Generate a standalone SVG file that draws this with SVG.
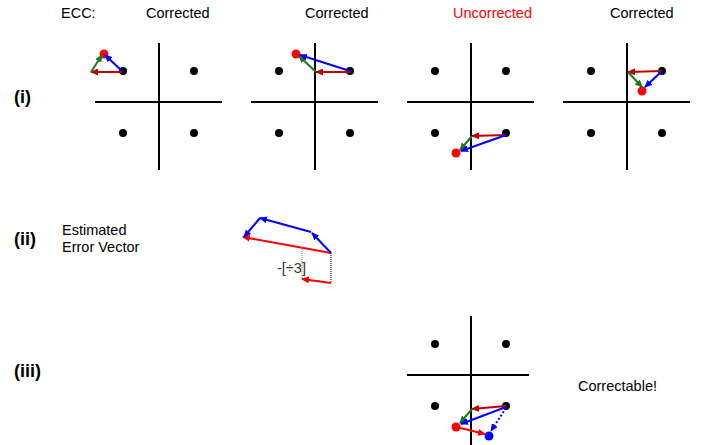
<svg xmlns="http://www.w3.org/2000/svg" width="701" height="445" viewBox="0 0 701 445">
<style>
text{font-family:"Liberation Sans",Arial,sans-serif;font-size:14.5px;fill:#000}
.lbl{font-weight:bold;font-size:18px}
.ax{stroke:#000;stroke-width:2;fill:none}
.pt{fill:#000}
.dr{stroke:#C00000;stroke-width:2;fill:none;marker-end:url(#mdr)}
.br{stroke:#FF0000;stroke-width:2;fill:none;marker-end:url(#mbr)}
.gr{stroke:#1A7A1A;stroke-width:2;fill:none;marker-end:url(#mgr)}
.bl{stroke:#0000FF;stroke-width:2;fill:none;marker-end:url(#mbl)}
.bld{stroke:#0000FF;stroke-width:2;stroke-dasharray:2 2;fill:none;marker-end:url(#mbl)}
.dot{stroke:#000;stroke-width:1;stroke-dasharray:1 1;fill:none}
.dotg{stroke:#888;stroke-width:1;stroke-dasharray:1 1;fill:none}
</style>
<defs>
<marker id="mdr" markerUnits="userSpaceOnUse" markerWidth="8" markerHeight="7" refX="7" refY="3.5" orient="auto"><path d="M0,0 L8,3.5 L0,7 z" fill="#C00000"/></marker>
<marker id="mbr" markerUnits="userSpaceOnUse" markerWidth="8" markerHeight="7" refX="7" refY="3.5" orient="auto"><path d="M0,0 L8,3.5 L0,7 z" fill="#FF0000"/></marker>
<marker id="mgr" markerUnits="userSpaceOnUse" markerWidth="8" markerHeight="7" refX="7" refY="3.5" orient="auto"><path d="M0,0 L8,3.5 L0,7 z" fill="#1A7A1A"/></marker>
<marker id="mbl" markerUnits="userSpaceOnUse" markerWidth="8" markerHeight="7" refX="7" refY="3.5" orient="auto"><path d="M0,0 L8,3.5 L0,7 z" fill="#0000FF"/></marker>
</defs>

<g id="header">
<text x="61" y="18">ECC:</text>
<text x="146" y="18">Corrected</text>
<text x="305" y="18">Corrected</text>
<text x="453" y="18" style="fill:#FF0000">Uncorrected</text>
<text x="610" y="18">Corrected</text>
</g>

<g id="labels">
<text class="lbl" x="14" y="103">(i)</text>
<text class="lbl" x="14" y="245">(ii)</text>
<text class="lbl" x="14" y="377">(iii)</text>
<text x="62" y="235">Estimated</text>
<text x="62" y="252">Error Vector</text>
<text x="578" y="391">Correctable!</text>
</g>

<g id="panel1">
<line class="ax" x1="159" y1="43" x2="159" y2="170"/>
<line class="ax" x1="95" y1="102" x2="222" y2="102"/>
<circle class="pt" cx="123" cy="71" r="4"/><circle class="pt" cx="194" cy="71" r="4"/>
<circle class="pt" cx="123" cy="133" r="4"/><circle class="pt" cx="194" cy="133" r="4"/>
<circle cx="104" cy="54" r="4.5" fill="#FF0000"/>
</g>
<g id="panel2">
<line class="ax" x1="315" y1="43" x2="315" y2="170"/>
<line class="ax" x1="251" y1="102" x2="378" y2="102"/>
<circle class="pt" cx="279" cy="71" r="4"/><circle class="pt" cx="350" cy="71" r="4"/>
<circle class="pt" cx="279" cy="133" r="4"/><circle class="pt" cx="350" cy="133" r="4"/>
<circle cx="296" cy="54" r="4.5" fill="#FF0000"/>
</g>
<g id="panel3">
<line class="ax" x1="471" y1="43" x2="471" y2="170"/>
<line class="ax" x1="407" y1="102" x2="534" y2="102"/>
<circle class="pt" cx="435" cy="71" r="4"/><circle class="pt" cx="506" cy="71" r="4"/>
<circle class="pt" cx="435" cy="133" r="4"/><circle class="pt" cx="506" cy="133" r="4"/>
<circle cx="456" cy="153" r="4.5" fill="#FF0000"/>
</g>
<g id="panel4">
<line class="ax" x1="627" y1="43" x2="627" y2="170"/>
<line class="ax" x1="563" y1="102" x2="690" y2="102"/>
<circle class="pt" cx="591" cy="71" r="4"/><circle class="pt" cx="662" cy="71" r="4"/>
<circle class="pt" cx="591" cy="133" r="4"/><circle class="pt" cx="662" cy="133" r="4"/>
<circle cx="642" cy="91" r="4.5" fill="#FF0000"/>
</g>
<g id="panel5">
<line class="ax" x1="471" y1="316" x2="471" y2="445"/>
<line class="ax" x1="407" y1="375" x2="529" y2="375"/>
<circle class="pt" cx="435" cy="344" r="4"/><circle class="pt" cx="506" cy="344" r="4"/>
<circle class="pt" cx="435" cy="406" r="4"/><circle class="pt" cx="506" cy="406" r="4"/>
<circle cx="456" cy="427" r="4.5" fill="#FF0000"/>
<circle cx="489" cy="436" r="4.5" fill="#0000FF"/>
</g>
<g id="estimate">
<text x="277" y="273" style="fill:#333">-[÷3]</text>
</g>

<g id="connectors">
<line class="dr" x1="122" y1="72" x2="91" y2="72"/>
<line class="bl" x1="122" y1="71" x2="105" y2="55"/>
<line class="gr" x1="91" y1="72" x2="102" y2="55"/>

<line class="dr" x1="350" y1="72" x2="316" y2="72"/>
<line class="gr" x1="316" y1="72" x2="299" y2="56"/>
<line class="bl" x1="350" y1="71" x2="300" y2="55"/>

<line class="dr" x1="506" y1="135" x2="472" y2="136"/>
<line class="gr" x1="472" y1="136" x2="460" y2="150"/>
<line class="bl" x1="506" y1="135" x2="461" y2="151"/>

<line class="dr" x1="662" y1="71" x2="628" y2="72"/>
<line class="gr" x1="628" y1="72" x2="642" y2="87"/>
<line class="bl" x1="662" y1="71" x2="645" y2="87"/>

<line class="br" x1="331" y1="253" x2="243" y2="237"/>
<line class="bl" x1="331" y1="253" x2="312" y2="233"/>
<line class="bl" x1="311" y1="232" x2="260" y2="218"/>
<line class="bl" x1="260" y1="218" x2="244" y2="237"/>
<line class="dot" x1="331" y1="253" x2="331" y2="283"/>
<line class="dotg" x1="302" y1="247" x2="302" y2="278"/>
<line class="br" x1="331" y1="283" x2="302" y2="279"/>

<line class="dr" x1="506" y1="406" x2="472" y2="409"/>
<line class="gr" x1="472" y1="409" x2="460" y2="423"/>
<line class="bl" x1="506" y1="407" x2="461" y2="424"/>
<line class="br" x1="456" y1="427" x2="485" y2="434"/>
<line class="bld" x1="506" y1="408" x2="491" y2="431"/>
</g>
</svg>
